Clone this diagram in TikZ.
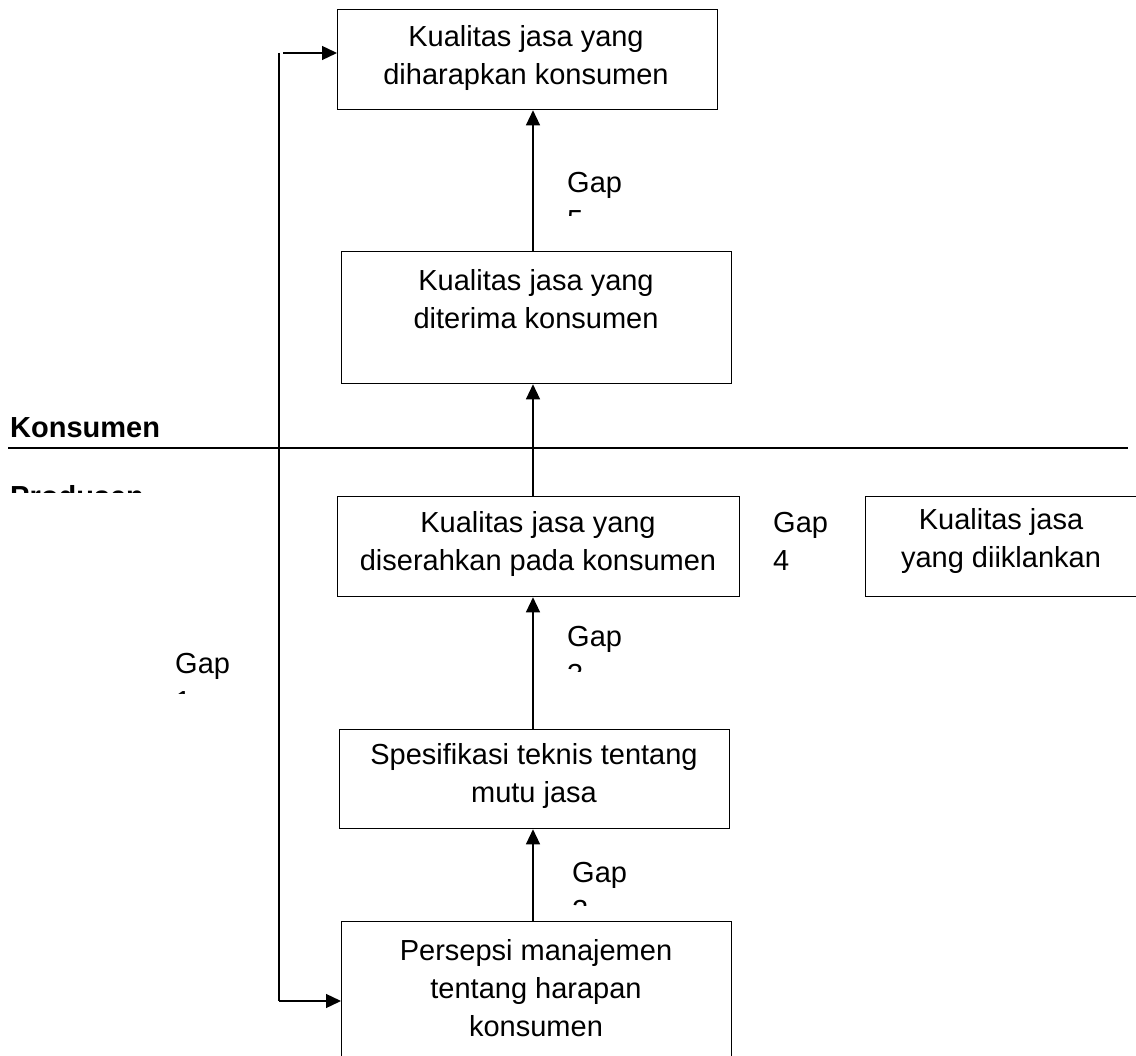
\documentclass[tikz,border=0pt]{standalone}
\usepackage{fontspec}
\setmainfont{Liberation Sans}
\usetikzlibrary{arrows.meta}
\begin{document}
\begin{tikzpicture}[x=1pt,y=-1pt,
  box/.style={draw,line width=1.3pt,inner sep=0pt,anchor=north west},
  lbl/.style={font=\fontsize{29}{38}\selectfont,align=center,inner sep=0pt},
  gap/.style={font=\fontsize{29}{38}\selectfont,align=left,inner sep=0pt,anchor=west},
  side/.style={font=\fontsize{29}{38}\selectfont\bfseries,inner sep=0pt,anchor=west},
  ln/.style={line width=1.3pt},
  arr/.style={line width=1.3pt,-{Triangle[length=15pt,width=14pt]}}]
\useasboundingbox (0,0) rectangle (1136,1056);
% boxes
\node[box,minimum width=380pt,minimum height=100pt] (b1) at (337,9) {};
\node[box,minimum width=390pt,minimum height=132pt] (b2) at (341,251) {};
\node[box,minimum width=402pt,minimum height=100pt] (b3) at (337,496) {};
\node[box,minimum width=285pt,minimum height=100pt] (b4) at (865,496) {};
\node[box,minimum width=390pt,minimum height=99pt] (b5) at (339,729) {};
\node[box,minimum width=390pt,minimum height=200pt] (b6) at (341,921) {};
% texts
\node[lbl] (t1) at (526,58) {Kualitas jasa yang\\diharapkan konsumen};
\node[lbl] (t2) at (536,299) {Kualitas jasa yang\\diterima konsumen};
\node[lbl] (t3) at (538,544) {Kualitas jasa yang\\diserahkan pada konsumen};
\node[lbl] (t4) at (1001,541) {Kualitas jasa\\yang diiklankan};
\node[lbl] (t5) at (534,776) {Spesifikasi teknis tentang\\mutu jasa};
\node[lbl] (t6) at (536,988) {Persepsi manajemen\\tentang harapan\\konsumen};
% gap labels
\node[gap] (g4) at (773,541) {Gap\\4};
\begin{scope}
  \clip (550,150) rectangle (700,216);
  \node[gap] (g5) at (567,202) {Gap\\5};
\end{scope}
\begin{scope}
  \clip (550,600) rectangle (700,671);
  \node[gap] (g3) at (567,656) {Gap\\3};
\end{scope}
\begin{scope}
  \clip (160,630) rectangle (300,693);
  \node[gap] (g1) at (175,682) {Gap\\1};
\end{scope}
\begin{scope}
  \clip (550,850) rectangle (700,905);
  \node[gap] (g2) at (572,891) {Gap\\2};
\end{scope}
% side labels
\node[side] (kons) at (10,428) {Konsumen};
\begin{scope}
  \clip (0,470) rectangle (270,493);
  \node[side] (prod) at (10,496) {Produsen};
\end{scope}
% separator
\coordinate (sepL) at (8,448);
\coordinate (sepR) at (1128,448);
\draw[ln] (sepL) -- (sepR);
% spine arrows
\coordinate (col) at (533,0);
\draw[arr] (b2.north -| col) -- (b1.south -| col);
\draw[arr] (b3.north -| col) -- (b2.south -| col);
\draw[arr] (b5.north -| col) -- (b3.south -| col);
\draw[arr] (b6.north -| col) -- (b5.south -| col);
% gap 1 loop
\coordinate (lt) at (279,53);
\coordinate (lb) at (279,1001);
\coordinate (ht) at (283,53);
\draw[ln] (lt) -- (lb);
\draw[arr] (ht) -- (b1.west |- ht);
\draw[arr] (lb) -- (b6.west |- lb);
\end{tikzpicture}
\end{document}
